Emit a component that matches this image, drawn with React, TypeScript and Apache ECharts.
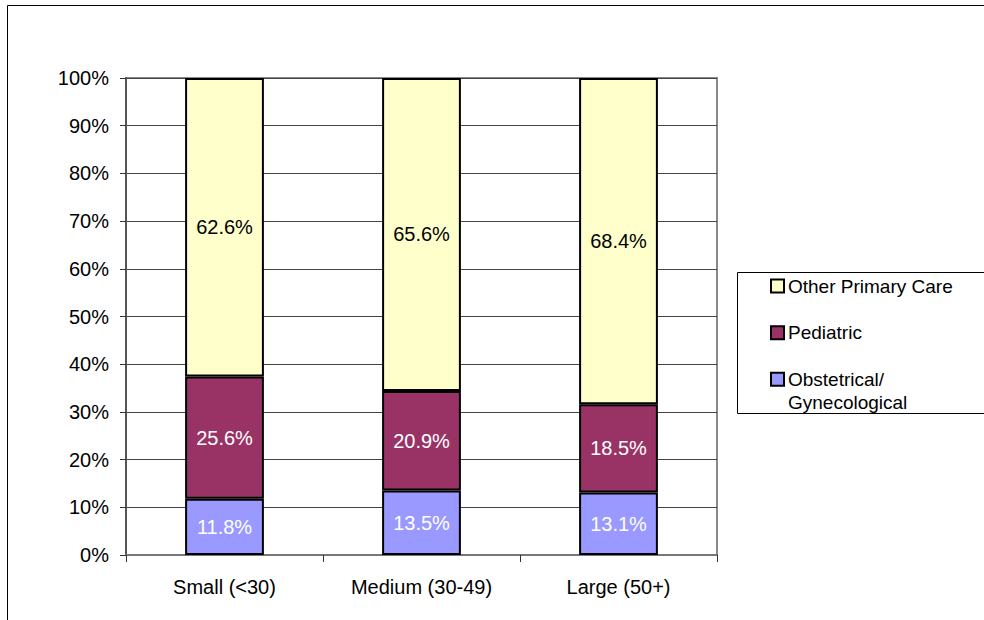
import React, { useEffect, useRef } from "react";
import * as echarts from "echarts";

const categories = ["Small (<30)", "Medium (30-49)", "Large (50+)"];
const obstetrical = [11.8, 13.5, 13.1];
const pediatric = [25.6, 20.9, 18.5];
const otherPrimary = [62.6, 65.6, 68.4];
const seriesNames = ["Obstetrical/\nGynecological", "Pediatric", "Other Primary Care"];
const seriesColors = ["#9999FF", "#993366", "#FFFFCC"];
const labelColors = ["#FFFFFF", "#FFFFFF", "#000000"];
const legendOrder = [2, 1, 0];

const FONT = "'Liberation Sans', Arial, Helvetica, sans-serif";

export default function App() {
  const ref = useRef<HTMLDivElement>(null);
  useEffect(() => {
    if (!ref.current) return;
    const chart = echarts.init(ref.current, null, { renderer: "svg" });
    const values = [obstetrical, pediatric, otherPrimary];
    const series = values.map((arr, si) => ({
      name: seriesNames[si],
      type: "bar",
      stack: "total",
      barWidth: "40%",
      data: arr,
      itemStyle: { color: seriesColors[si], borderColor: "#000", borderWidth: 2 },
      label: {
        show: true,
        position: "inside",
        formatter: (p: any) => p.value.toFixed(1) + "%",
        color: labelColors[si],
        fontSize: 20,
        fontFamily: FONT,
      },
    }));

    const legendGraphics: any[] = [
      {
        type: "rect",
        shape: { x: 737.5, y: 272.5, width: 400, height: 141 },
        style: { fill: "#fff", stroke: "#000", lineWidth: 1 },
        z: 10,
      },
    ];
    const legendY = [286, 332.7, 379.3];
    legendOrder.forEach((si, i) => {
      legendGraphics.push({
        type: "rect",
        shape: { x: 771, y: legendY[i] - 6.5, width: 13, height: 13 },
        style: { fill: seriesColors[si], stroke: "#000", lineWidth: 2 },
        z: 11,
      });
      legendGraphics.push({
        type: "text",
        x: 788,
        y: legendY[i] - 11,
        style: {
          text: seriesNames[si],
          fill: "#000",
          fontSize: 19,
          fontFamily: FONT,
          lineHeight: 22.5,
          verticalAlign: "top",
        },
        z: 11,
      });
    });

    chart.setOption({
      animation: false,
      backgroundColor: "#fff",
      grid: {
        left: 126,
        top: 78,
        right: 267,
        bottom: 65,
        show: true,
        borderColor: "#888",
        borderWidth: 2,
        containLabel: false,
      },
      xAxis: {
        type: "category",
        data: categories,
        axisLine: { show: true, lineStyle: { color: "#777", width: 2 } },
        axisTick: { show: true, length: 7, alignWithLabel: false, lineStyle: { color: "#333" } },
        axisLabel: { color: "#000", fontSize: 20, fontFamily: FONT, margin: 22 },
        splitLine: { show: false },
      },
      yAxis: {
        type: "value",
        min: 0,
        max: 100,
        interval: 10,
        axisLine: { show: true, lineStyle: { color: "#555", width: 2 } },
        axisTick: { show: true, length: 6, lineStyle: { color: "#333" } },
        axisLabel: { formatter: "{value}%", color: "#000", fontSize: 20, fontFamily: FONT, margin: 17 },
        splitLine: { show: true, lineStyle: { color: "#444", width: 1 } },
      },
      series,
      graphic: [
        {
          type: "rect",
          shape: { x: 7.5, y: 5.5, width: 1200, height: 1000 },
          style: { fill: "none", stroke: "#000", lineWidth: 1 },
          silent: true,
          z: 0,
        },
        ...legendGraphics,
      ],
    });
    return () => chart.dispose();
  }, []);
  return (
    <div
      ref={ref}
      style={{ position: "absolute", left: 0, top: 0, width: 984, height: 620 }}
    />
  );
}
